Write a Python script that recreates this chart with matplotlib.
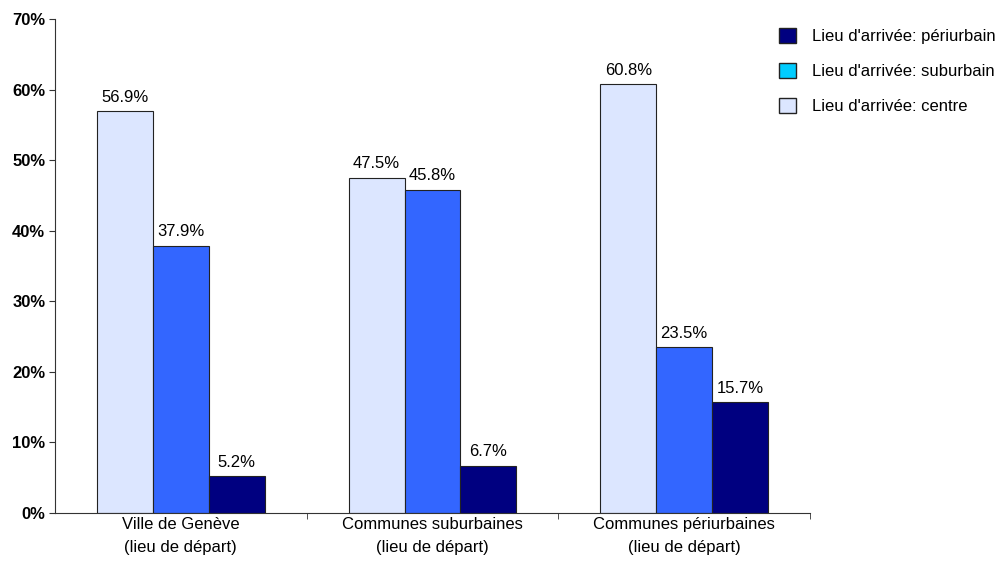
import numpy as np
import matplotlib.pyplot as plt
from matplotlib.patches import Patch

plt.rcParams['font.family'] = ['Liberation Sans', 'DejaVu Sans']

categories = ['Ville de Genève\n(lieu de départ)', 'Communes suburbaines\n(lieu de départ)',
              'Communes périurbaines\n(lieu de départ)']
centre = [56.9, 47.5, 60.8]
suburbain = [37.9, 45.8, 23.5]
periurbain = [5.2, 6.7, 15.7]

series = [centre, suburbain, periurbain]
colors = ['#DCE6FF', '#3366FF', '#000080']

fig = plt.figure(figsize=(10.01, 5.65), dpi=100)
ax = fig.add_axes([55 / 1001, 52 / 565, 755 / 1001, 494 / 565])

x = np.arange(len(categories))
w = 0.222
for i, (vals, c) in enumerate(zip(series, colors)):
    bars = ax.bar(x + (i - 1) * w, vals, w, color=c, edgecolor='#222222', linewidth=0.8)
    for b, v in zip(bars, vals):
        ax.text(b.get_x() + b.get_width() / 2, v + 0.9, f'{v:.1f}%', ha='center', va='bottom', fontsize=12)

ax.set_xlim(-0.5, 2.5)
ax.set_ylim(0, 70)
ax.set_yticks(range(0, 71, 10))
ax.set_yticklabels([f'{t}%' for t in range(0, 71, 10)], fontsize=12, fontweight='bold')
ax.set_xticks(x)
ax.set_xticklabels(categories, fontsize=12, linespacing=1.65)
ax.set_xticks([0.5, 1.5, 2.5], minor=True)
ax.tick_params(axis='x', which='major', length=0, pad=3)
ax.tick_params(axis='x', which='minor', length=4, color='#333333')
ax.tick_params(axis='y', length=4, color='#333333', pad=3)
for s in ['top', 'right']:
    ax.spines[s].set_visible(False)
ax.spines['left'].set_color('#333333')
ax.spines['bottom'].set_color('#333333')

handles = [Patch(facecolor='#000080', edgecolor='#222222', label="Lieu d'arrivée: périurbain"),
           Patch(facecolor='#00CCFF', edgecolor='#222222', label="Lieu d'arrivée: suburbain"),
           Patch(facecolor='#DCE6FF', edgecolor='#222222', label="Lieu d'arrivée: centre")]
fig.legend(handles=handles, loc='upper left', bbox_to_anchor=(776 / 1001, 1 - 25 / 565), frameon=False,
           fontsize=12, handlelength=1.0, handleheight=1.0, labelspacing=1.12, handletextpad=0.95,
           borderaxespad=0, borderpad=0.2)

fig.savefig('out.png', dpi=100)
